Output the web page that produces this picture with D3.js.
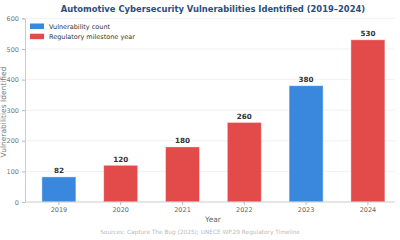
<!DOCTYPE html>
<html><head><meta charset="utf-8">
<script src="https://cdn.jsdelivr.net/npm/d3@7"></script>
<style>html,body{margin:0;padding:0;background:#fff;}svg{display:block;font-family:"DejaVu Sans",sans-serif;}</style>
</head><body>
<script>
const years = ["2019","2020","2021","2022","2023","2024"];
const counts = [82,120,180,260,380,530];
const milestone = [false,true,true,true,false,true];
const yTicks = [0,100,200,300,400,500,600];
const legendLabels = ["Vulnerability count","Regulatory milestone year"];
const colors = {base:"#3a87de", milestone:"#e34b4b"};

(function(){
const W=400,H=240;
const svg=d3.select("body").append("svg").attr("width",W).attr("height",H);
const pLeft=25, pTop=18.4, pBottom=202;
const x=d3.scaleBand().domain(years).range([28,398.8]).paddingInner(0.45).paddingOuter(0.225);
const y=d3.scaleLinear().domain([0,600]).range([pBottom,pTop]);

svg.append("g").selectAll("line").data(yTicks.filter(d=>d>0)).join("line")
  .attr("x1",pLeft).attr("x2",395).attr("y1",d=>y(d)).attr("y2",d=>y(d))
  .attr("stroke","#eeeeee").attr("stroke-width",0.8);

svg.append("g").selectAll("rect").data(years).join("rect")
  .attr("x",d=>x(d)).attr("width",x.bandwidth())
  .attr("y",(d,i)=>y(counts[i])).attr("height",(d,i)=>y(0)-y(counts[i]))
  .attr("fill",(d,i)=>milestone[i]?colors.milestone:colors.base)
  .attr("stroke","#ffffff").attr("stroke-opacity",0.5).attr("stroke-width",0.8);

svg.append("g").selectAll("text").data(years).join("text")
  .attr("x",d=>x(d)+x.bandwidth()/2).attr("y",(d,i)=>y(counts[i])-3.5)
  .attr("text-anchor","middle").attr("font-size",7.2).attr("font-weight","bold").attr("fill","#333")
  .text((d,i)=>counts[i]);

const ya=d3.axisLeft(y).tickValues(yTicks).tickSize(3).tickPadding(3);
const gy=svg.append("g").attr("transform",`translate(${pLeft},0)`).call(ya);
gy.select(".domain").attr("stroke","#ccc");
gy.selectAll(".tick line").attr("stroke","#bbb");
gy.selectAll(".tick text").attr("fill","#777").attr("font-size",6.5).attr("font-family","DejaVu Sans");

const xa=d3.axisBottom(x).tickSize(3).tickPadding(2.5);
const gx=svg.append("g").attr("transform",`translate(0,${pBottom})`).call(xa);
gx.select(".domain").attr("stroke","#ccc").attr("d",`M${pLeft},0H395`);
gx.selectAll(".tick line").attr("stroke","#bbb");
gx.selectAll(".tick text").attr("fill","#666").attr("font-size",6.5).attr("font-family","DejaVu Sans");

svg.append("text").attr("x",213).attr("y",222).attr("text-anchor","middle")
  .attr("font-size",7.5).attr("fill","#666").text("Year");
svg.append("text").attr("transform","translate(6,112) rotate(-90)").attr("text-anchor","middle")
  .attr("font-size",7.5).attr("fill","#777").text("Vulnerabilities Identified");

svg.append("text").attr("x",213).attr("y",11.5).attr("text-anchor","middle")
  .attr("font-size",8.4).attr("font-weight","bold").attr("fill","#2b4e7e")
  .text("Automotive Cybersecurity Vulnerabilities Identified (2019–2024)");

const lg=svg.append("g");
legendLabels.forEach((t,i)=>{
  lg.append("rect").attr("x",30).attr("y",23.5+i*10.2).attr("width",14).attr("height",5.5)
    .attr("fill",i===0?colors.base:colors.milestone);
  lg.append("text").attr("x",49).attr("y",29.2+i*10.2).attr("font-size",6.5).attr("fill","#333").text(t);
});

svg.append("text").attr("x",200).attr("y",234).attr("text-anchor","middle")
  .attr("font-size",5.8).attr("fill","#bbb").text("Sources: Capture The Bug (2025); UNECE WP.29 Regulatory Timeline");
})();
</script>
</body></html>
